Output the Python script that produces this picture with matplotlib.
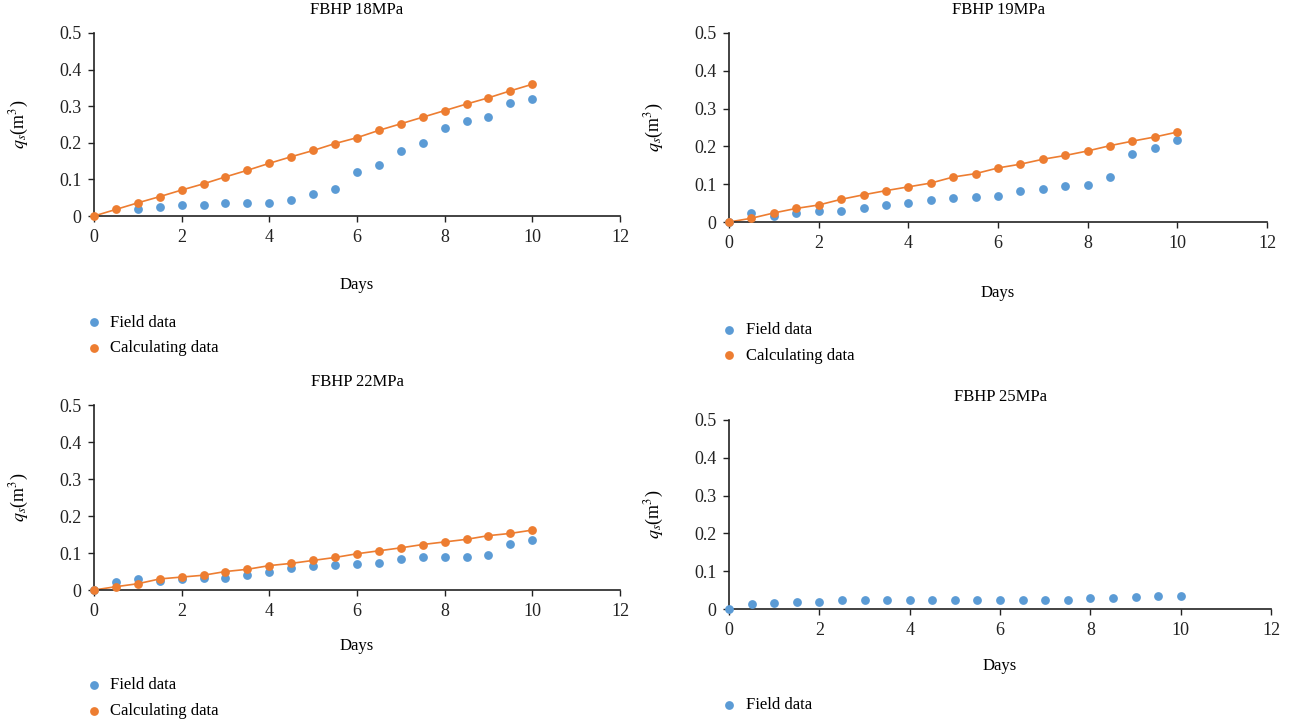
import matplotlib
matplotlib.use("Agg")
import matplotlib.pyplot as plt

plt.rcParams['font.family'] = ['Liberation Serif', 'DejaVu Serif']
plt.rcParams['mathtext.fontset'] = 'stix'

BLUE = '#5B9BD5'
ORANGE = '#ED7D31'

days = [0, 0.5, 1, 1.5, 2, 2.5, 3, 3.5, 4, 4.5, 5, 5.5, 6, 6.5, 7, 7.5, 8, 8.5, 9, 9.5, 10]

# FBHP 18MPa
field_18_days = [1, 1.5, 2, 2.5, 3, 3.5, 4, 4.5, 5, 5.5, 6, 6.5, 7, 7.5, 8, 8.5, 9, 9.5, 10]
field_18 = [0.018, 0.025, 0.029, 0.031, 0.035, 0.036, 0.036, 0.045, 0.060, 0.075, 0.120, 0.140,
            0.178, 0.200, 0.240, 0.260, 0.270, 0.310, 0.320]
calc_18 = [0, 0.018, 0.036, 0.053, 0.071, 0.088, 0.107, 0.125, 0.144, 0.162, 0.179, 0.198,
           0.214, 0.234, 0.252, 0.270, 0.288, 0.306, 0.323, 0.342, 0.360]

# FBHP 19MPa
field_19 = [0, 0.024, 0.015, 0.024, 0.028, 0.030, 0.036, 0.045, 0.049, 0.058, 0.063, 0.065,
            0.070, 0.082, 0.088, 0.094, 0.097, 0.118, 0.180, 0.197, 0.218]
calc_19 = [0, 0.010, 0.024, 0.036, 0.045, 0.060, 0.072, 0.083, 0.093, 0.103, 0.119, 0.128,
           0.143, 0.153, 0.166, 0.176, 0.188, 0.202, 0.214, 0.225, 0.238]

# FBHP 22MPa
field_22 = [0, 0.022, 0.029, 0.025, 0.030, 0.032, 0.032, 0.040, 0.050, 0.060, 0.065, 0.068,
            0.070, 0.073, 0.083, 0.088, 0.088, 0.090, 0.094, 0.125, 0.134]
calc_22 = [0, 0.009, 0.017, 0.030, 0.035, 0.040, 0.050, 0.056, 0.066, 0.072, 0.080, 0.088,
           0.098, 0.106, 0.114, 0.123, 0.130, 0.137, 0.147, 0.153, 0.162]

# FBHP 25MPa
field_25 = [0, 0.014, 0.016, 0.019, 0.019, 0.023, 0.025, 0.023, 0.025, 0.025, 0.023, 0.025,
            0.025, 0.025, 0.025, 0.025, 0.028, 0.028, 0.031, 0.035, 0.035]

yticks = [0, 0.1, 0.2, 0.3, 0.4, 0.5]
ytick_labels = ['0', '0.1', '0.2', '0.3', '0.4', '0.5']
xticks = [0, 2, 4, 6, 8, 10, 12]

fig = plt.figure(figsize=(13, 7.22), dpi=100)

panels = [
    # rect, title, field x, field y, calc y, legend anchor, xlabel pad
    ([0.0723, 0.7008, 0.4046, 0.2535], 'FBHP 18MPa', field_18_days, field_18, calc_18, (0.067, 0.564), 23),
    ([0.5608, 0.6925, 0.4138, 0.2618], 'FBHP 19MPa', days, field_19, calc_19, (0.556, 0.554), 24),
    ([0.0723, 0.1828, 0.4046, 0.2562], 'FBHP 22MPa', days, field_22, calc_22, (0.067, 0.062), 13),
    ([0.5608, 0.1565, 0.4169, 0.2618], 'FBHP 25MPa', days, field_25, None, (0.556, 0.034), 14),
]

for rect, title, fx, fy, cy, anchor, xpad in panels:
    ax = fig.add_axes(rect)
    handles = []
    h1 = ax.scatter(fx, fy, s=40, color=BLUE, zorder=3, label='Field data',
                    linewidths=0, clip_on=False)
    handles.append(h1)
    if cy is not None:
        ax.plot(days, cy, color=ORANGE, lw=1.2, zorder=2)
        h2 = ax.scatter(days, cy, s=40, color=ORANGE, zorder=4, label='Calculating data',
                        linewidths=0, clip_on=False)
        handles.append(h2)
    ax.set_xlim(0, 12)
    ax.set_ylim(0, 0.5)
    ax.set_xticks(xticks)
    ax.set_yticks(yticks)
    ax.set_yticklabels(ytick_labels)
    ax.tick_params(labelsize=13, direction='out', length=4, width=1, colors='#222222', pad=5)
    for s in ['top', 'right']:
        ax.spines[s].set_visible(False)
    for s in ['left', 'bottom']:
        ax.spines[s].set_color('#222222')
        ax.spines[s].set_linewidth(1.2)
    ax.set_title(title, fontsize=12, pad=14)
    ax.set_xlabel('Days', fontsize=12, labelpad=xpad)
    ax.set_ylabel('$q_s$(m$^3$)', fontsize=13, labelpad=20)
    fig.legend(handles=handles, loc='upper left', bbox_to_anchor=anchor,
               bbox_transform=fig.transFigure, frameon=False, fontsize=12,
               handlelength=0.8, handletextpad=0.6, labelspacing=0.58,
               borderpad=0, borderaxespad=0)

fig.savefig('out.png', dpi=100)
